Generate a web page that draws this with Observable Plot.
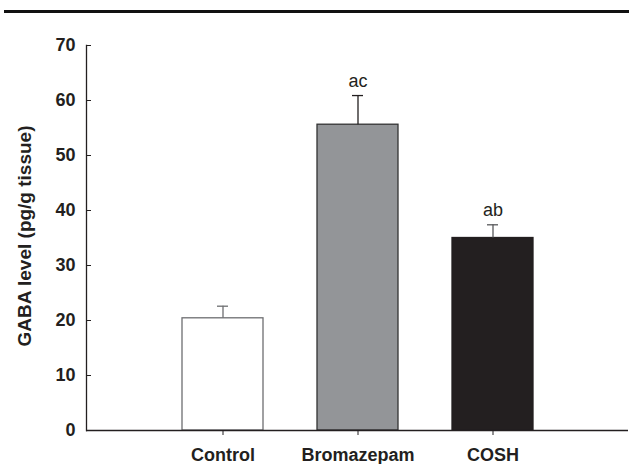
<!DOCTYPE html>
<html>
<head>
<meta charset="utf-8">
<script src="https://cdn.jsdelivr.net/npm/d3@7"></script>
<script src="https://cdn.jsdelivr.net/npm/@observablehq/plot@0.6"></script>
<style>
  html, body { margin: 0; padding: 0; background: #fff; }
  #wrap { position: relative; width: 629px; height: 464px; font-family: "Liberation Sans", Arial, sans-serif; }
  #topline { position: absolute; left: 4px; top: 10px; width: 625px; height: 3px; background: #111; }
  #chart { position: absolute; left: 0; top: 0; }
</style>
</head>
<body>
<div id="wrap"><div id="chart"></div><div id="topline"></div></div>
<script>
const categories = ["Control", "Bromazepam", "COSH"];
const means = [20.4, 55.6, 35.0];
const errors = [2.2, 5.3, 2.4];
const letters = ["", "ac", "ab"];
const yTicks = [0, 10, 20, 30, 40, 50, 60, 70];
const yLabel = "GABA level (pg/g tissue)";

const data = categories.map((c, i) => ({
  group: c, mean: means[i], err: errors[i], top: means[i] + errors[i], letter: letters[i]
}));

const fillColors = ["#ffffff", "#939598", "#231f20"];
const strokeColors = ["#6d6e71", "#333333", "#231f20"];
const errColors = ["#6d6e71", "#231f20", "#58595b"];

const font = '"Liberation Sans", Arial, sans-serif';

const chart = Plot.plot({
  width: 629,
  height: 464,
  marginLeft: 86,
  marginRight: 1,
  marginTop: 45,
  marginBottom: 34,
  style: { fontFamily: font, background: "transparent", color: "#231f20" },
  x: { domain: categories, paddingInner: 0.4, paddingOuter: 0.7, label: null },
  y: { domain: [0, 70], label: null },
  marks: [
    Plot.barY(data, {
      x: "group", y: "mean",
      fill: (d, i) => fillColors[i],
      stroke: (d, i) => strokeColors[i],
      strokeWidth: 1.3
    }),
    Plot.ruleX(data, { x: "group", y1: "mean", y2: "top", stroke: (d, i) => errColors[i], strokeWidth: 1.3 }),
    Plot.tickY(data, { x: "group", y: "top", stroke: (d, i) => errColors[i], strokeWidth: 1.3, insetLeft: 35, insetRight: 35 }),
    Plot.text(data, { x: "group", y: "top", text: "letter", dy: -9, lineAnchor: "bottom", fontSize: 18, fill: "#231f20" }),
    Plot.ruleY([0], { stroke: "#231f20", strokeWidth: 1.3 }),
    Plot.frame({ anchor: "left", stroke: "#231f20", strokeWidth: 1.3 }),
    Plot.axisY({ ticks: yTicks, tickSize: -5, tickPadding: 16, fontSize: 18, fontWeight: "bold", label: null, stroke: "#231f20" }),
    Plot.axisX({ tickSize: 5, tickPadding: 13, fontSize: 18, fontWeight: "bold", label: null, stroke: "#231f20" }),
    Plot.text([yLabel], {
      frameAnchor: "left", dx: -62, dy: -2, rotate: -90,
      textAnchor: "middle", lineAnchor: "middle",
      fontSize: 19, fontWeight: "bold", fill: "#231f20"
    })
  ]
});
document.getElementById("chart").appendChild(chart);
</script>
</body>
</html>
